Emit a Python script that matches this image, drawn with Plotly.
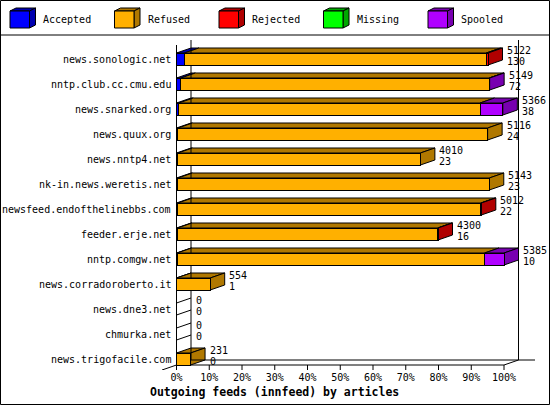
import plotly.graph_objects as go

# innfeed outgoing feeds, articles per peer
feeds = ['news.sonologic.net', 'nntp.club.cc.cmu.edu', 'news.snarked.org', 'news.quux.org',
         'news.nntp4.net', 'nk-in.news.weretis.net', 'newsfeed.endofthelinebbs.com',
         'feeder.erje.net', 'nntp.comgw.net', 'news.corradoroberto.it', 'news.dne3.net',
         'chmurka.net', 'news.trigofacile.com']
offered = [5122, 5149, 5366, 5116, 4010, 5143, 5012, 4300, 5385, 554, 0, 0, 231]
accepted = [130, 72, 38, 24, 23, 23, 22, 16, 10, 1, 0, 0, 0]
refused = [4962, 5069, 4953, 5092, 3987, 5120, 4982, 4278, 5055, 553, 0, 0, 231]
rejected = [30, 0, 0, 0, 0, 0, 8, 6, 0, 0, 0, 0, 0]
missing = [0, 0, 0, 0, 0, 0, 0, 0, 0, 0, 0, 0, 0]
spooled = [0, 8, 375, 0, 0, 0, 0, 0, 320, 0, 0, 0, 0]

series = ['Accepted', 'Refused', 'Rejected', 'Missing', 'Spooled']
values = [accepted, refused, rejected, missing, spooled]
front = ['#0000ff', '#ffb000', '#ff0000', '#00ff00', '#b000ff']
dark = ['#0000b0', '#b07800', '#b00000', '#00a800', '#7800b0']

ticks = list(range(0, 101, 10))
ticktext = [f'{t}%' for t in ticks]

FONT = 'DejaVu Sans Mono'
W, H = 550, 405
L, R, T, B = 160, 545, 38, 370   # plot area in pixels
X0 = 176.5                       # pixel of 0%
XS = 3.275                       # pixels per percent
ROW0, ROWH = 59, 25              # first row centre, row spacing
DX = 14.5 / XS                   # 3d depth in x units
DY = 5 / ROWH                    # 3d depth in y units
HALF = 6 / ROWH

scale = 100.0 / max(offered)


def paper(xp, yp):
    return (xp - L) / (R - L), (B - yp) / (B - T)


fig = go.Figure()

for name, vals, col in zip(series, values, front):
    fig.add_trace(go.Bar(
        y=list(range(len(feeds))), x=[v * scale for v in vals], name=name,
        orientation='h', width=2 * HALF, marker=dict(color=col, line=dict(color='black', width=1)),
        showlegend=False))

shapes = []
annotations = []
line = dict(color='black', width=1)

# top and side faces of the 3d bars
for i in range(len(feeds)):
    yt, yb = i - HALF, i + HALF
    left = 0.0
    last = None
    for k, vals in enumerate(values):
        v = vals[i] * scale
        if v <= 0:
            continue
        right = left + v
        shapes.append(dict(type='path', layer='below', xref='x', yref='y', fillcolor=dark[k], line=line,
                           path=f'M {left},{yt} L {right},{yt} L {right + DX},{yt - DY} L {left + DX},{yt - DY} Z'))
        left = right
        last = k
    if last is None:
        for yy in (yt, yb):
            shapes.append(dict(type='line', layer='below', xref='x', yref='y', line=line,
                               x0=0, y0=yy, x1=DX, y1=yy - DY))
    else:
        shapes.append(dict(type='path', layer='below', xref='x', yref='y', fillcolor=dark[last], line=line,
                           path=f'M {left},{yt} L {left + DX},{yt - DY} L {left + DX},{yb - DY} L {left},{yb} Z'))
    xl = left + DX + 2.5 / XS
    annotations.append(dict(x=xl, y=i - 9 / ROWH, xref='x', yref='y', text=str(offered[i]),
                            xanchor='left', yanchor='middle', showarrow=False))
    annotations.append(dict(x=xl, y=i + 2 / ROWH, xref='x', yref='y', text=str(accepted[i]),
                            xanchor='left', yanchor='middle', showarrow=False))
    annotations.append(dict(x=(173 - X0) / XS, y=i, xref='x', yref='y', text=feeds[i],
                            xanchor='right', yanchor='middle', showarrow=False))

# axis frame (front and back planes)
ybot = len(feeds) - 1 + HALF
ytop_front = -(ROW0 - 45) / ROWH
ytop_back = -(ROW0 - 40) / ROWH
frame = [
    (0, ytop_front, 0, ybot + DY),
    (0, ybot, 100, ybot),
    (100, ybot, 100 + DX, ybot - DY),
    (-DX, ybot + DY, 0, ybot),
    (DX, ybot - DY, (535 - X0) / XS, ybot - DY),
    (DX, ybot - DY, DX, ytop_back),
    (100 + DX, ybot - DY, 100 + DX, ytop_back),
]
for x0, y0, x1, y1 in frame:
    shapes.append(dict(type='line', layer='below', xref='x', yref='y', line=line, x0=x0, y0=y0, x1=x1, y1=y1))
for t in ticks:
    shapes.append(dict(type='line', layer='below', xref='x', yref='y', line=line, x0=t, y0=ybot, x1=t, y1=ybot + DY))

# legend: little cubes across the top
for j, (name, col, dcol) in enumerate(zip(series, front, dark)):
    bx = 10 + j * 104.5
    p = [paper(bx, 11), paper(bx + 19.5, 11), paper(bx + 25.5, 8), paper(bx + 6, 8),
         paper(bx + 25.5, 25), paper(bx + 19.5, 28), paper(bx, 28)]
    shapes.append(dict(type='path', xref='paper', yref='paper', fillcolor=dcol, line=line,
                       path=f'M {p[0][0]},{p[0][1]} L {p[1][0]},{p[1][1]} L {p[2][0]},{p[2][1]} L {p[3][0]},{p[3][1]} Z'))
    shapes.append(dict(type='path', xref='paper', yref='paper', fillcolor=dcol, line=line,
                       path=f'M {p[1][0]},{p[1][1]} L {p[2][0]},{p[2][1]} L {p[4][0]},{p[4][1]} L {p[5][0]},{p[5][1]} Z'))
    shapes.append(dict(type='rect', xref='paper', yref='paper', fillcolor=col, line=line,
                       x0=p[6][0], y0=p[6][1], x1=p[1][0], y1=p[1][1]))
    tx, ty = paper(bx + 31, 20)
    annotations.append(dict(x=tx, y=ty, xref='paper', yref='paper', text=name, xanchor='left',
                            yanchor='middle', showarrow=False))

# legend separator and outer border
sx0, sy0 = paper(0, 35)
sx1, _ = paper(W, 35)
shapes.append(dict(type='line', xref='paper', yref='paper', line=line, x0=sx0, y0=sy0, x1=sx1, y1=sy0))
bx0, by0 = paper(0.5, 404.5)
bx1, by1 = paper(549.5, 0.5)
shapes.append(dict(type='rect', xref='paper', yref='paper', line=line, x0=bx0, y0=by0, x1=bx1, y1=by1))

tx, ty = paper(274, 392)
annotations.append(dict(x=tx, y=ty, xref='paper', yref='paper', text='<b>Outgoing feeds (innfeed) by articles</b>',
                        xanchor='center', yanchor='middle', showarrow=False,
                        font=dict(family=FONT, size=11.5, color='black')))

fig.update_layout(
    width=W, height=H,
    margin=dict(l=L, r=W - R, t=T, b=H - B, pad=0),
    barmode='stack',
    paper_bgcolor='white', plot_bgcolor='white',
    font=dict(family=FONT, size=10, color='black'),
    showlegend=False,
    shapes=shapes,
    annotations=annotations,
    xaxis=dict(range=[(L - X0) / XS, (R - X0) / XS], tickvals=ticks, ticktext=ticktext,
               showgrid=False, zeroline=False, showline=False, ticks='',
               tickfont=dict(family=FONT, size=10, color='black')),
    yaxis=dict(range=[len(feeds) - 1 + (B - (ROW0 + (len(feeds) - 1) * ROWH)) / ROWH, -(ROW0 - T) / ROWH],
               showgrid=False, zeroline=False, showline=False, showticklabels=False, ticks=''),
)

# the page's default body margin would push the figure off the 550x405 window
fig.write_html("out.html", config={'displayModeBar': False},
               post_script="document.body.style.margin='0px';")
